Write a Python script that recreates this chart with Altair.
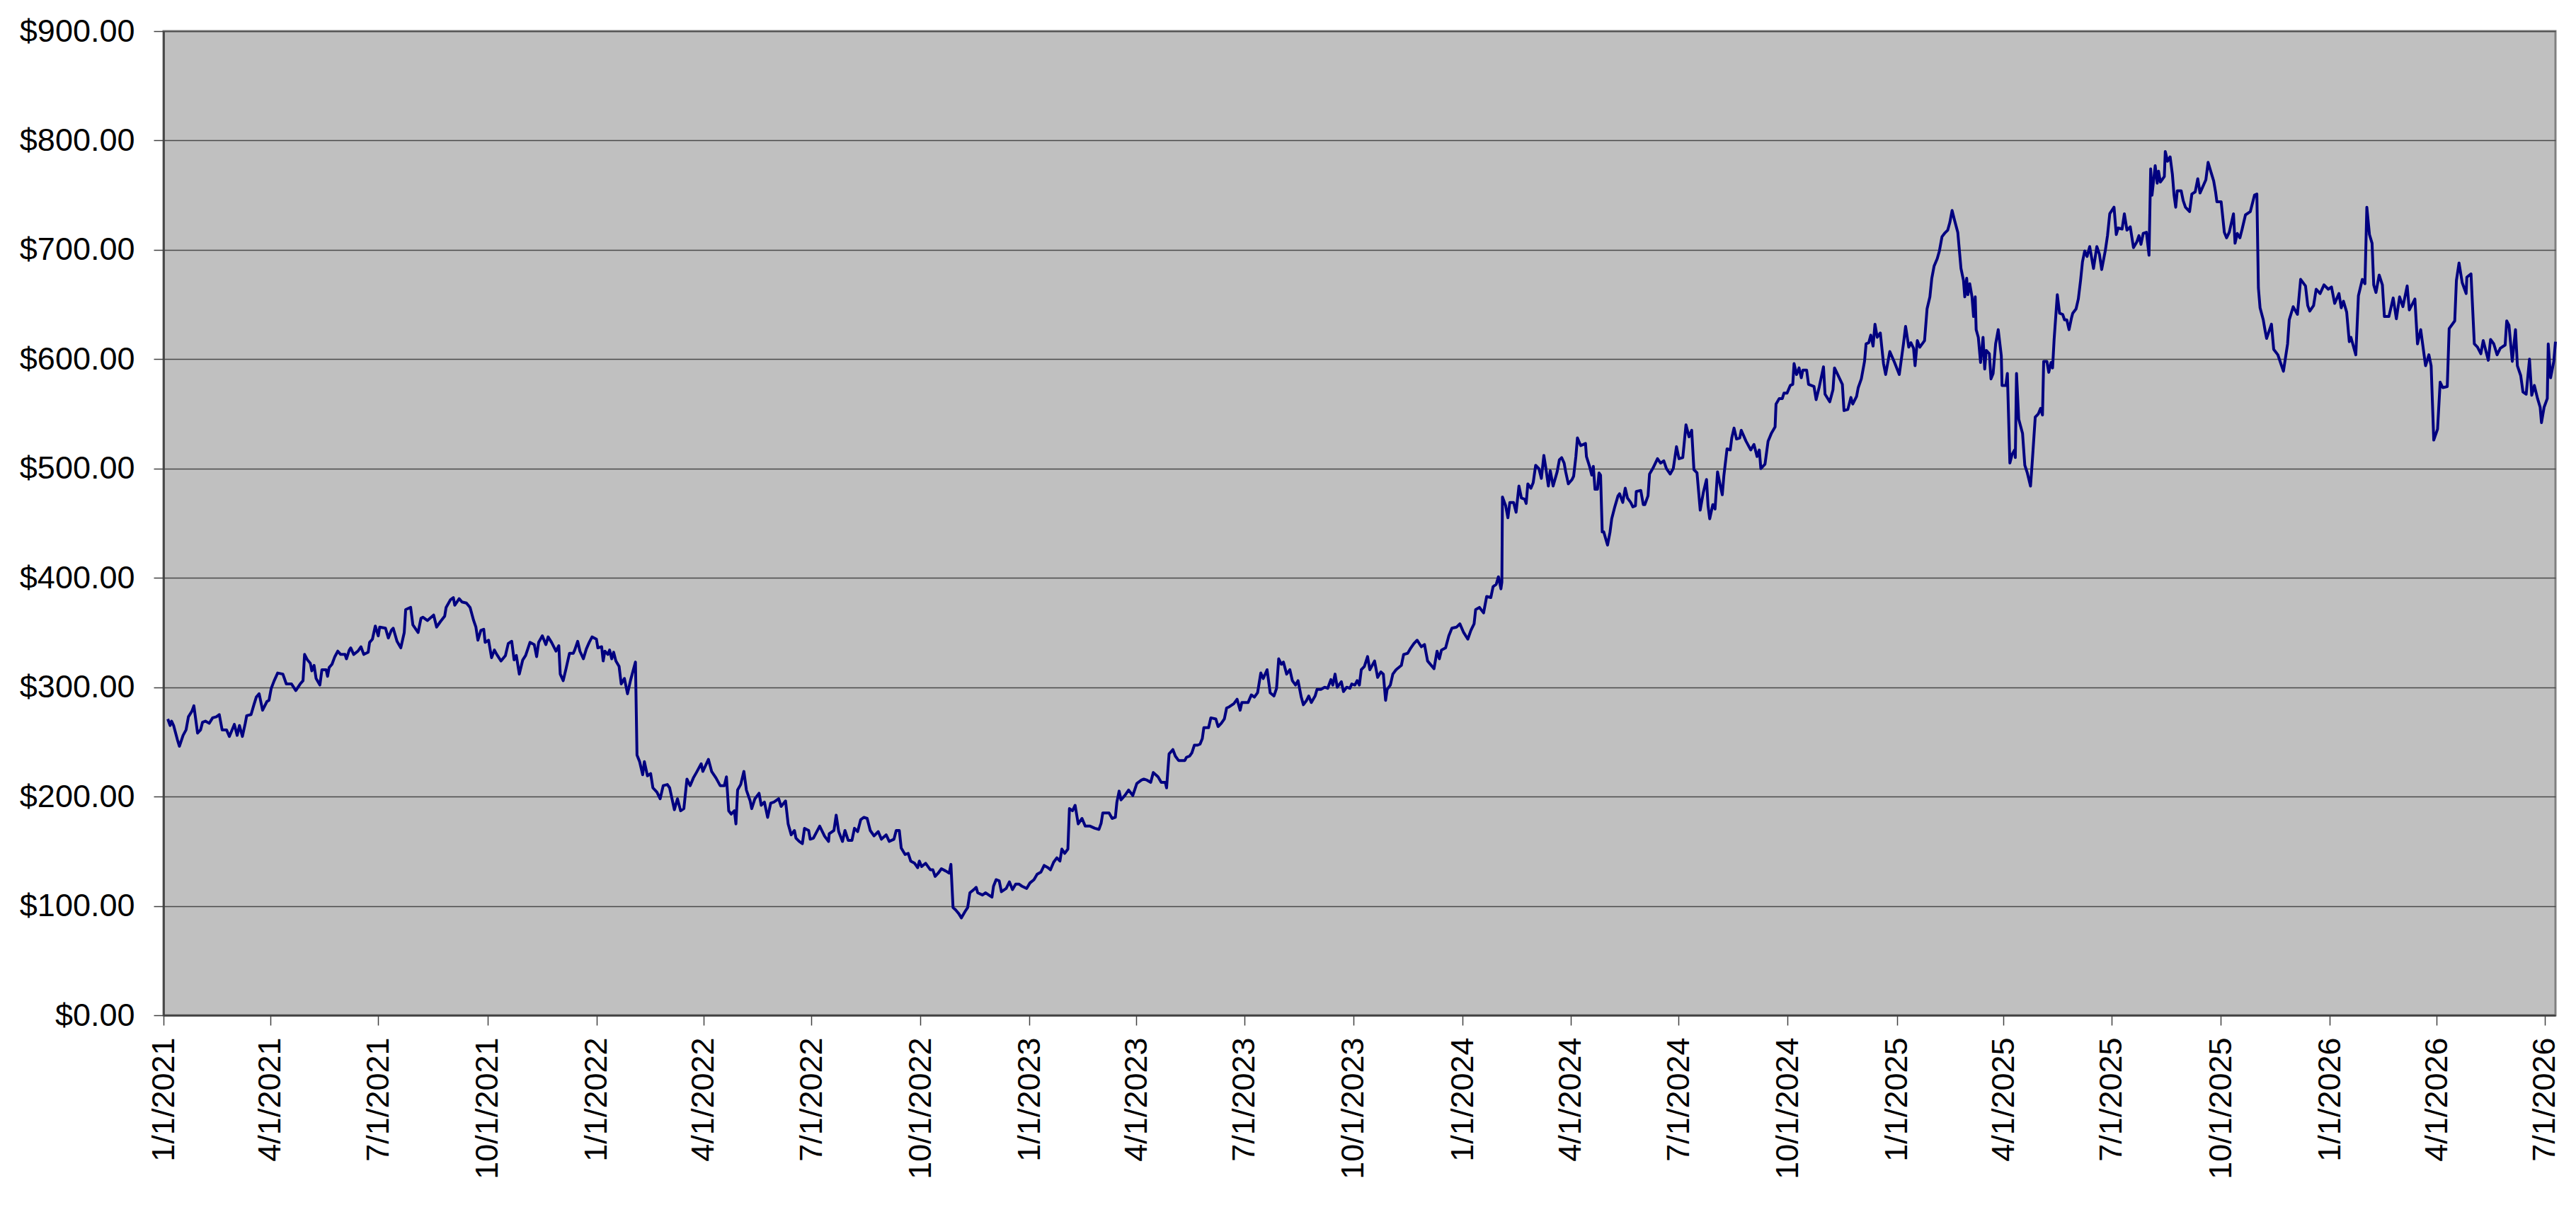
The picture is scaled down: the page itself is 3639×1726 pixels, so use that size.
import altair as alt
import pandas as pd

start_date = "2021-01-01"

tick_dates = [
    "2021-01-01", "2021-04-01", "2021-07-01", "2021-10-01",
    "2022-01-01", "2022-04-01", "2022-07-01", "2022-10-01",
    "2023-01-01", "2023-04-01", "2023-07-01", "2023-10-01",
    "2024-01-01", "2024-04-01", "2024-07-01", "2024-10-01",
    "2025-01-01", "2025-04-01", "2025-07-01", "2025-10-01",
    "2026-01-01", "2026-04-01", "2026-07-01",
]
y_ticks = [0, 100, 200, 300, 400, 500, 600, 700, 800, 900]

# (days since start_date, price)
seg_2021 = [
    (3.6, 271), (5.6, 265), (6.8, 269), (8.5, 265), (11.7, 252), (13.4, 246), (16.5, 256), (19, 261),
    (21, 273), (23.9, 278), (25.6, 283), (28.7, 258), (31.2, 261), (32.9, 268), (35.3, 269), (38.5, 267),
    (41.4, 272), (44.6, 273), (47, 275), (49.4, 261), (53.1, 261), (55.5, 255), (59.7, 266), (62.1, 256),
    (64, 265), (66.5, 255), (68.9, 267), (70.1, 274), (73.8, 275), (76.2, 284), (78.2, 291), (80.6, 294),
    (83.5, 279), (87.2, 287), (88.9, 288), (90.8, 299), (93.3, 306), (96.2, 313), (100.6, 312), (103.5, 303),
    (107.9, 303), (111.5, 297), (115.2, 303), (117.6, 306), (118.9, 330), (121.3, 325), (123.7, 322), (125, 315),
    (126.9, 320), (128.6, 308), (131.8, 302), (133.5, 316), (137.1, 316), (138.3, 310), (139.6, 318), (142, 321),
    (144.4, 328), (146.9, 333), (149.3, 330), (153, 330), (154.2, 326), (156.6, 334), (157.8, 336), (160.3, 330),
    (163.9, 333), (166.4, 337), (168.8, 330), (172.5, 332), (173.7, 341), (176.1, 344), (178.5, 356), (181, 347),
    (182.2, 355), (187.1, 354), (189.5, 345), (192, 352), (193.6, 354), (196.8, 342), (200, 336), (202.9, 350),
    (204.1, 371), (208.3, 373), (210.2, 357), (214.6, 350), (217, 363), (218.7, 364), (222.4, 361), (227.7, 366),
    (230.2, 355), (233.4, 360), (237, 365), (238.2, 373), (241.9, 380), (244.3, 382), (245.5, 375), (249.2, 381),
    (251.6, 378), (255.3, 377), (258.4, 373), (261.4, 361), (263.3, 355), (265, 343), (267.5, 352), (269.9, 353),
    (271.1, 341), (274, 343), (276.5, 327), (278.9, 334), (280.9, 330), (284.5, 324), (288.2, 329), (290.6, 340),
    (293.5, 342), (295.5, 325), (297.4, 329), (299.9, 312), (302.8, 325), (305.2, 329), (308.9, 341), (312.5, 339),
    (314.5, 328), (316.2, 341), (319.3, 347), (322.3, 339), (324.2, 346), (327.1, 341), (330.8, 333), (333.2, 338),
    (334.4, 312), (336.9, 306), (339.3, 317), (342.2, 331), (345.4, 331), (346.6, 334), (349.1, 342), (351, 333),
    (353.9, 326), (356.4, 335), (358.8, 341), (361.2, 346), (364.9, 344), (366.1, 336),
]

seg_2022 = [
    (369.3, 337), (370.6, 324), (372, 333), (374.6, 330), (376, 334), (377.8, 326), (379.4, 332), (381.3, 324),
    (384, 319), (385.8, 303), (388.5, 308), (391.1, 294), (393.8, 307), (397.8, 323), (399.1, 238), (401.3, 232),
    (403.9, 220), (405.3, 232), (407.9, 219), (410.6, 221), (412.5, 208), (415.9, 204), (418.6, 198), (421.2, 210),
    (424.7, 211), (426.6, 208), (430.6, 188), (433.2, 198), (435.9, 187), (438.6, 189), (441.2, 216), (443.9, 210),
    (446.6, 217), (449.2, 222), (453.2, 230), (454.6, 223), (459.3, 234), (462, 223), (465.7, 217), (469.2, 210),
    (472.7, 210), (474.5, 218), (476.4, 187), (478.5, 184), (481.2, 187), (482.5, 175), (483.9, 206), (486.5, 211),
    (489.2, 223), (491.3, 206), (494.5, 196), (495.8, 189), (498.5, 198), (502, 203), (503.8, 192), (506.5, 195),
    (509.2, 181), (511.8, 194), (514.5, 195), (518.5, 198), (520.6, 191), (524.3, 196), (526.5, 175), (529.1, 165),
    (531.8, 169), (533.1, 162), (535.8, 159), (538.5, 157), (540.3, 171), (543.8, 169), (545.1, 161), (547.8, 162),
    (553.1, 173), (557.1, 164), (560.6, 159), (561.1, 166), (565.1, 169), (567, 183), (569.1, 168), (572.3, 159),
    (574.4, 169), (577.1, 160), (580.3, 160), (582.4, 171), (585.1, 168), (587.7, 179), (590.4, 181), (593.1, 180),
    (595.7, 169), (598.9, 164), (602.4, 168), (605.1, 161), (609.1, 165), (611.7, 159), (615.7, 161), (617.6, 169),
    (620.2, 169), (621.8, 153), (625.1, 147), (627.7, 148), (629.8, 141), (633.1, 139), (635.7, 135), (637.1, 141),
    (639, 136), (642.4, 139), (646.4, 133), (648.5, 133), (650.4, 127), (653, 130), (655.7, 134), (659.2, 132),
    (662.3, 130), (663.7, 138), (665.5, 98.5), (667.7, 96.3), (670.3, 93), (672.5, 89), (675.7, 95), (677.8, 98.5),
    (679.7, 112), (683.1, 115), (685, 117), (686.3, 112), (690.3, 110), (693, 112), (695.6, 110), (698.3, 108),
    (699.6, 118), (701.8, 124), (704.4, 123), (706.3, 113), (710.3, 116), (713, 122), (715.6, 115), (718.3, 120),
    (721, 120), (723.6, 118), (727.6, 116), (730.3, 121), (733.7, 124), (736.4, 129), (739.6, 131), (742.3, 137),
    (745.5, 135), (747.6, 133), (750.3, 140), (753, 144), (755.6, 141), (757.2, 152), (759.6, 148), (762.3, 152),
    (763.6, 189), (766.2, 187), (768.4, 192), (771, 175), (774.2, 180), (776.9, 173),
]

seg_2023 = [
    (781, 173), (785, 171), (788.5, 170), (790.3, 175.5), (791.7, 185), (797, 185), (799.6, 180), (802.3, 181),
    (803.6, 195), (805.5, 205), (807.1, 197), (810.3, 201), (813.5, 206), (817, 201), (820.4, 212), (824.2, 215),
    (826.3, 216), (829, 215), (832.1, 213), (834.3, 222), (838.3, 218), (841, 213), (844.4, 213), (845.5, 208),
    (847.6, 239), (850.8, 243), (852.9, 237), (855.6, 233), (860.9, 233), (862.3, 236), (864.9, 237), (866.8, 240),
    (868.9, 247), (871.6, 247), (873.7, 248), (875.6, 253), (876.9, 263), (880.9, 263), (882.8, 272), (887, 271),
    (888.9, 264), (891.6, 267), (894.2, 271), (896.1, 281), (898.2, 282), (902.2, 285), (904.9, 289), (907.5, 279),
    (908.9, 286), (911.5, 286), (914.2, 286), (916.9, 293), (919.5, 291), (922.2, 295), (924.9, 313), (927, 308),
    (930.2, 316), (932.8, 295), (936, 292), (938.2, 299), (940, 326), (942.2, 321), (944, 323), (946.7, 312),
    (949.4, 316), (951.5, 306), (954.2, 302), (956.3, 306), (959, 291), (960.8, 284), (963.5, 288), (965.3, 292),
    (967.5, 286), (970.7, 292), (972.3, 298), (975.5, 298), (978.7, 300), (981.3, 299), (984, 307), (985.6, 302),
    (987.5, 312), (989.3, 300), (992.8, 305), (994.6, 296), (997.3, 300), (1000, 299), (1001.6, 303), (1004.2, 302),
    (1006.1, 306), (1008, 302), (1009.6, 316), (1012.2, 319), (1014.9, 328), (1016.8, 316), (1020.8, 324), (1023.4, 309),
    (1026.1, 314), (1028.2, 312), (1030.1, 288), (1031.4, 298), (1034.1, 302), (1036.2, 312), (1038.9, 316), (1043.4, 320),
    (1045.3, 330), (1048.7, 331), (1051.4, 336), (1054, 340), (1056.7, 343), (1060.2, 337), (1062.9, 339), (1065.5, 324),
    (1070.9, 317), (1073.5, 333), (1075.4, 326), (1077.2, 334), (1080.7, 336), (1083.4, 347), (1086, 354), (1090, 355),
    (1092.7, 358), (1095.9, 350), (1099.4, 344), (1102, 352), (1104.7, 358), (1106, 371), (1109.2, 373), (1112.7, 368),
    (1115.3, 383), (1118.8, 382), (1120.7, 392), (1123.3, 394), (1125.2, 401), (1127.3, 390), (1128.1, 396), (1128.6, 474),
    (1131.3, 466), (1133.2, 455), (1134.8, 469), (1138, 469), (1140.1, 460), (1142.5, 484), (1144.6, 473), (1147.3, 472),
    (1148.6, 468), (1150, 486), (1152.6, 482), (1154.5, 487), (1156.6, 503), (1159.3, 500), (1161.4, 491), (1163.5, 512),
    (1165.1, 501), (1167.3, 484), (1168.9, 498), (1171.3, 484), (1174.7, 497), (1176.6, 508), (1178.5, 510), (1180.6, 505),
    (1181.9, 497), (1184.1, 486), (1187.3, 490), (1188.6, 493), (1190.5, 511), (1191.8, 528), (1194.5, 521), (1196.6, 522),
]

seg_2024 = [
    (1198.6, 523), (1199.4, 511), (1202, 502), (1203.9, 494), (1205.2, 502), (1206.6, 481), (1208.7, 481), (1210, 496),
    (1211.3, 494), (1212.7, 442), (1214, 442), (1215.3, 437), (1217.2, 430), (1219.3, 442), (1220.7, 454), (1223.3, 465),
    (1226, 475), (1227.3, 477), (1230, 469), (1232.1, 482), (1234, 473), (1236.7, 469), (1238.5, 465), (1240.7, 466),
    (1241.4, 479), (1245.2, 480), (1247.3, 467), (1248.6, 467), (1251.3, 475), (1252.6, 495), (1255.3, 500), (1259.3, 509),
    (1261.9, 505), (1264.6, 507), (1266.8, 500), (1270, 495), (1272.6, 500), (1275.3, 520), (1277.4, 509), (1280.6, 510),
    (1283.3, 540), (1285.9, 529), (1288.1, 535), (1290, 499), (1292.6, 496), (1295.3, 462), (1297.9, 478), (1300.6, 490),
    (1301.9, 466), (1303.3, 454), (1305.9, 467), (1307.8, 463), (1309.9, 497), (1312.1, 485), (1313.9, 476), (1315.2, 493),
    (1317.9, 518), (1320.6, 517), (1321.9, 528), (1323.8, 537), (1325.9, 527), (1328.6, 528), (1329.9, 535), (1333.9, 525),
    (1337.9, 517), (1340.6, 522), (1343.2, 511), (1345.1, 517), (1346.4, 500), (1349.9, 504), (1352.5, 525), (1355.2, 532),
    (1358.4, 538), (1359.2, 559), (1361.9, 564), (1364.5, 564), (1365.9, 569), (1368.5, 569), (1371.2, 576), (1373.3, 577),
    (1374.4, 596), (1376.5, 586), (1378.6, 592), (1380.5, 583), (1381.8, 590), (1385, 590), (1386.6, 577), (1391.2, 575),
    (1393, 563), (1395.7, 575), (1399.2, 593), (1400.5, 568), (1404.5, 561), (1407.2, 572), (1408.5, 592), (1412.5, 583),
    (1415.1, 577), (1416.5, 553), (1419.7, 554), (1422.3, 565), (1423.9, 559), (1427.1, 566), (1428.5, 574), (1431.1, 582),
    (1433.8, 598), (1435.1, 614), (1437.3, 615), (1439.1, 622), (1441, 612), (1442.6, 632), (1444.5, 620), (1447.1, 624),
    (1449.8, 596), (1451.6, 586), (1455.1, 607), (1459.1, 597), (1463.1, 586), (1466.6, 614), (1468.4, 630), (1471.1, 611),
    (1472.9, 615), (1475.1, 610), (1476.4, 594), (1478.3, 617), (1480.4, 611), (1484.4, 617), (1486.5, 646), (1488.9, 657),
    (1490.5, 674), (1492.4, 685), (1495.1, 692), (1496.9, 699), (1499.1, 712), (1501.2, 715), (1503.9, 718), (1505.7, 725),
    (1507.6, 736), (1509.7, 727), (1512.4, 716), (1515.1, 683), (1517.2, 672), (1518.3, 657), (1519.9, 674), (1520.9, 659),
    (1522.5, 669), (1524.4, 657), (1525.7, 639), (1527.1, 657), (1527.9, 627), (1529.7, 620), (1531.6, 597), (1533.7, 620),
    (1535.1, 591), (1536.4, 608), (1539, 605), (1540.4, 582), (1542.2, 587), (1544.3, 614), (1546.5, 627), (1549.1, 603),
    (1549.7, 576), (1552.9, 576), (1554.2, 587), (1556.3, 505), (1558.2, 513), (1560.3, 517), (1560.9, 510), (1561.9, 587),
    (1563.8, 545), (1567, 532), (1568.9, 503), (1571, 496), (1573.7, 484), (1575.3, 508), (1577.7, 547), (1580.3, 550),
    (1582.2, 555), (1583.8, 549), (1584.8, 598), (1587.5, 598), (1589.1, 588), (1591, 597), (1592.3, 592), (1593.6, 618),
    (1596.3, 659), (1598.2, 642), (1600.8, 641), (1602.4, 636), (1604.3, 636), (1606.2, 627), (1608.3, 638),
]

seg_2025 = [
    (1609.3, 642), (1612.1, 646), (1614, 655), (1615.9, 672), (1617.5, 689), (1619.4, 699), (1621.4, 694), (1623.6, 703),
    (1626.8, 683), (1629.6, 703), (1631.8, 696), (1633.7, 682), (1636.7, 699), (1638.6, 713), (1640.5, 733), (1644.1, 739),
    (1646, 714), (1647.6, 720), (1650.9, 719), (1652.8, 733), (1655, 718), (1657.8, 721), (1660.5, 702), (1663.2, 707),
    (1665.1, 713), (1666.8, 705), (1668.7, 715), (1671.4, 716), (1673.6, 695), (1675, 774), (1676.1, 750), (1678.8, 777),
    (1680.5, 761), (1681.6, 772), (1683.2, 762), (1686.5, 767), (1687.3, 790), (1689.2, 781), (1691.4, 785), (1693.3, 769),
    (1694.7, 750), (1696.1, 739), (1697.4, 754), (1700.7, 754), (1702.4, 745), (1704.3, 739), (1707.8, 735), (1709.7, 751),
    (1712.5, 753), (1714.7, 765), (1716.6, 752), (1721.5, 764), (1723.4, 780), (1725.3, 773), (1728.1, 763), (1729.7, 753),
    (1730.8, 744), (1734.4, 744), (1737.1, 716), (1739, 711), (1741.2, 716), (1744.8, 733), (1746.1, 706), (1748, 715),
    (1750.2, 711), (1752.1, 719), (1754.9, 732), (1759, 735), (1762.5, 750), (1764.5, 751), (1765.8, 665), (1767.2, 647),
    (1769.9, 636), (1771.3, 627), (1772.7, 619), (1776.8, 632), (1778.7, 609), (1782.2, 604), (1785, 595), (1786.9, 589),
    (1790.4, 614), (1791.8, 636), (1795.1, 648), (1798.7, 641), (1801.4, 673), (1805.5, 667), (1807.4, 649), (1809.1, 644),
    (1812.3, 649), (1814.5, 664), (1817.8, 660), (1821.1, 668), (1824.7, 664), (1827.4, 666), (1830.1, 651), (1833.7, 660),
    (1835.6, 647), (1837.5, 653), (1840.2, 643), (1842.4, 616), (1843.8, 620), (1847.9, 604), (1850.1, 658), (1853.4, 673),
    (1855.6, 669), (1857.2, 739), (1859.4, 714), (1861.6, 706), (1863, 668), (1864.9, 661), (1867.6, 677), (1870.3, 668),
    (1872, 639), (1875.8, 639), (1879.4, 656), (1882.1, 637), (1884.8, 657), (1887.6, 648), (1891.2, 667), (1893, 645),
    (1897.7, 655), (1899.9, 614), (1902.6, 627), (1906.7, 594), (1909.5, 604), (1911.4, 594), (1913.6, 526), (1916.8, 536),
    (1919, 579), (1921.2, 574), (1925, 575), (1926.6, 628), (1931.3, 635), (1932.7, 672), (1934.9, 688), (1937.6, 670),
    (1940.9, 660), (1941.5, 675), (1945, 678), (1947.8, 614), (1950.5, 611), (1953.3, 605), (1955.3, 617), (1959.6, 599),
    (1961.5, 618), (1964.2, 614), (1967, 604), (1969.7, 610), (1973.8, 613), (1975.1, 635), (1977, 631), (1979.8, 598),
    (1982.5, 627), (1984.1, 594), (1986.9, 585), (1988.8, 570), (1991.5, 568), (1994.3, 600), (1996.2, 567), (1998.4, 576),
    (2001.1, 564), (2003.3, 556), (2004.4, 542), (2006.6, 556), (2009.3, 564), (2010.1, 614), (2012.1, 583), (2014.8, 598),
    (2016.2, 616),
]

points = seg_2021 + seg_2022 + seg_2023 + seg_2024 + seg_2025
df = pd.DataFrame(points, columns=["day", "price"])
base = pd.Timestamp(start_date)
df["t"] = ((base + pd.to_timedelta(df["day"], unit="D")) - pd.Timestamp("1970-01-01")) // pd.Timedelta(milliseconds=1)


def to_ms(s):
    return int((pd.Timestamp(s) - pd.Timestamp("1970-01-01")) // pd.Timedelta(milliseconds=1))


tick_ms = [to_ms(d) for d in tick_dates]
x_min = to_ms(start_date)
x_max = int(df["t"].max())

FONT = "Liberation Sans"

chart = alt.Chart(df).mark_line(color="#000080", strokeWidth=4, strokeJoin="round").encode(
    x=alt.X(
        "t:T",
        title=None,
        scale=alt.Scale(type="utc", domain=[x_min, x_max], nice=False),
        axis=alt.Axis(
            values=tick_ms,
            format="%-m/%-d/%Y",
            labelAngle=270,
            labelAlign="right",
            labelBaseline="middle",
            labelPadding=17,
            labelFlush=False,
            labelOverlap=False,
            labelBound=False,
            labelLimit=0,
            grid=False,
            tickSize=14,
            tickWidth=1.5,
            tickColor="#404040",
            domainColor="#404040",
            domainWidth=2.5,
        ),
    ),
    y=alt.Y(
        "price:Q",
        title=None,
        scale=alt.Scale(domain=[0, 900], nice=False, zero=True),
        axis=alt.Axis(
            values=y_ticks,
            format="$.2f",
            labelPadding=27,
            labelOverlap=False,
            labelFlush=False,
            labelLimit=0,
            grid=True,
            gridColor="#4a4a4a",
            gridWidth=1.6,
            tickSize=14,
            tickWidth=1.5,
            tickColor="#404040",
            domainColor="#404040",
            domainWidth=2.5,
        ),
    ),
).properties(
    width=3379,
    height=1390,
    padding={"left": 223, "top": 36, "right": 21, "bottom": 284},
    autosize=alt.AutoSizeParams(type="none"),
    background="white",
).configure_axis(
    labelFont=FONT,
    labelFontSize=45,
    labelColor="#000000",
).configure_view(
    fill="#C0C0C0",
    stroke="#808080",
    strokeWidth=3,
)

chart.save("out.html", embed_options={"renderer": "svg", "actions": False})
